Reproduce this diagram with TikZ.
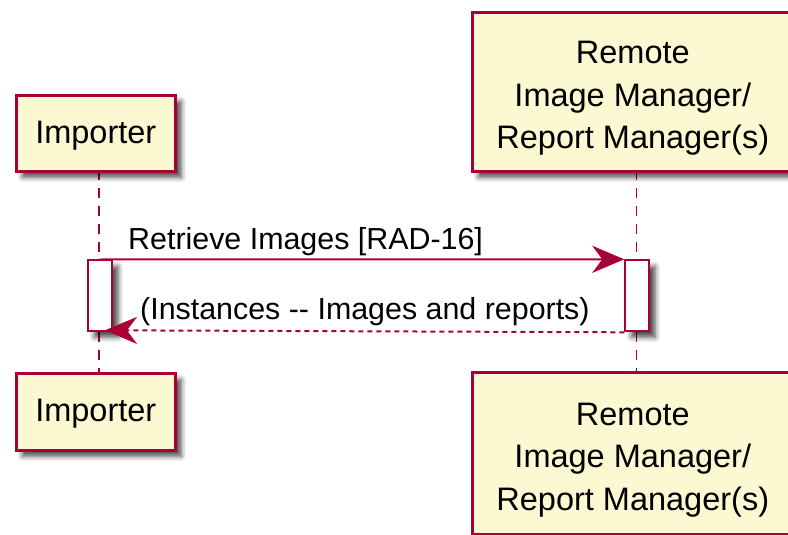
\documentclass[tikz,border=0pt]{standalone}
\usepackage{fontspec}
\setmainfont{Liberation Sans}
\usetikzlibrary{arrows.meta,shadows.blur}
\definecolor{umlred}{HTML}{A80036}
\definecolor{umlfill}{HTML}{FBF8D2}

\begin{document}
\begin{tikzpicture}[x=1pt,y=-1pt,
  softshadow/.style={blur shadow={shadow xshift=6pt,shadow yshift=-6pt,
      shadow blur radius=5pt,shadow opacity=70}},
  participant/.style={draw=umlred,fill=umlfill,line width=2.6pt,align=center,
      inner sep=0pt,anchor=north west,softshadow,
      font=\fontsize{32.5}{42.5}\selectfont},
  actbox/.style={draw=umlred,fill=white,line width=2pt,inner sep=0pt,
      anchor=north west,minimum width=24pt,minimum height=71pt,softshadow},
  lifeline/.style={draw=umlred,line width=1.8pt,dash pattern=on 10pt off 8pt},
  msg/.style={draw=umlred,line width=2pt,
      -{Stealth[length=32pt,width=27pt,inset=10pt]}},
  reply/.style={msg,dash pattern=on 5pt off 4pt},
  msglabel/.style={font=\fontsize{30.4}{36}\selectfont,inner sep=0pt,anchor=base west}
]
\clip (0,0) rectangle (788,535);

% lifelines
\coordinate (impA) at (99,170);
\coordinate (impB) at (99,372);
\coordinate (remA) at (636.5,170);
\coordinate (remB) at (636.5,371);
\draw[lifeline] (impA) -- (impB);
\draw[lifeline] (remA) -- (remB);

% participants, head and foot
\node[participant,minimum width=159pt,minimum height=76pt] (impTop) at (15,94) {\rule{0pt}{27pt}Importer};
\node[participant,minimum width=321pt,minimum height=159pt] (remTop) at (471,11)
  {\rule{0pt}{36pt}Remote\\Image Manager/\\Report Manager(s)};
\node[participant,minimum width=159pt,minimum height=77pt] (impBot) at (15,372) {\rule{0pt}{27pt}Importer};
\node[participant,minimum width=321pt,minimum height=162pt] (remBot) at (471,371)
  {\rule{0pt}{36pt}Remote\\Image Manager/\\Report Manager(s)};

% activation bars
\node[actbox] (impAct) at (87.3,259.3) {};
\node[actbox] (remAct) at (624.3,259.3) {};

% messages
\coordinate (reqStart) at (99,259.5);
\draw[msg] (reqStart) -- (remAct.north west);
\coordinate (repEnd) at (105,330.3);
\draw[reply] (remAct.south west) -- (repEnd);

\node[msglabel] (reqLabel) at (128,249) {Retrieve Images [RAD-16]};
\node[msglabel] (repLabel) at (140,319) {(Instances -{}- Images and reports)};
\end{tikzpicture}
\end{document}
